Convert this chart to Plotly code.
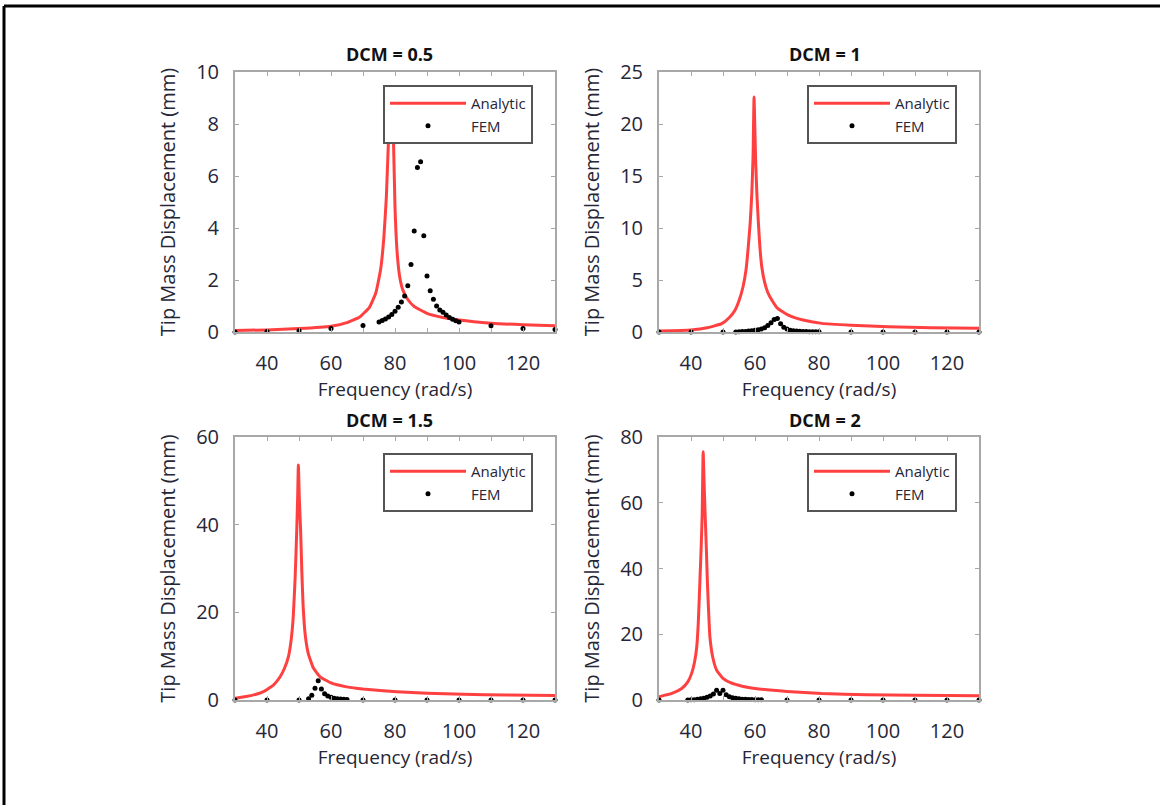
import plotly.graph_objects as go

W, H = 1160, 805

# ---------------- data ----------------
panel_titles = ["DCM = 0.5", "DCM = 1", "DCM = 1.5", "DCM = 2"]
y_max = [10, 25, 60, 80]
y_step = [2, 5, 20, 20]
x_tick_vals = [40, 60, 80, 100, 120]

# DCM = 0.5
freq_an_05 = [30, 40, 50, 60, 65, 69, 72, 74, 75.5, 76.5, 77.3, 78, 78.5, 78.8, 79.1, 79.5, 80, 80.7,
              81.5, 82.5, 84, 86, 90, 95, 100, 110, 120, 130]
disp_an_05 = [0.06, 0.08, 0.13, 0.22, 0.36, 0.58, 0.95, 1.5, 2.4, 3.6, 5.2, 7.5, 8.6, 9.0, 8.6, 7.5, 4.8, 3.0,
              2.1, 1.6, 1.25, 0.98, 0.72, 0.56, 0.46, 0.34, 0.28, 0.24]
freq_fem_05 = [30, 40, 50, 60, 70, 75, 76, 77, 78, 79, 80, 81, 82, 83, 84, 85, 86, 87, 88, 89, 90, 91, 92, 93,
               94, 95, 96, 97, 98, 99, 100, 110, 120, 130]
disp_fem_05 = [0.0, 0.02, 0.05, 0.13, 0.25, 0.38, 0.44, 0.50, 0.58, 0.67, 0.80, 0.95, 1.15, 1.38, 1.78, 2.6,
               3.88, 6.33, 6.55, 3.7, 2.15, 1.59, 1.26, 1.0, 0.85, 0.76, 0.65, 0.56, 0.49, 0.43, 0.38, 0.24,
               0.13, 0.10]

# DCM = 1
freq_an_1 = [30, 40, 45, 49.6, 52, 53.75, 55, 56.3, 57.2, 57.9, 58.5, 59, 59.4, 59.7, 60.0, 60.2, 60.6, 61,
             61.5, 62.1, 63, 64, 65.2, 67, 70.4, 75, 80.8, 90, 101.7, 115, 130]
disp_an_1 = [0.1, 0.2, 0.4, 0.8, 1.4, 2.1, 3.0, 4.4, 6.0, 8.2, 10.5, 13.3, 17, 22.6, 19, 16.5, 13.2, 10.8,
             8.3, 6.3, 4.8, 3.8, 3.1, 2.3, 1.63, 1.15, 0.83, 0.65, 0.5, 0.42, 0.35]
freq_fem_1 = [30, 40, 50, 54, 55, 56, 57, 58, 59, 60, 61, 62, 63, 64, 65, 66, 67, 68, 69, 70, 71, 72, 73, 74,
              75, 76, 77, 78, 79, 80, 90, 100, 110, 120, 130]
disp_fem_1 = [0.0, 0.0, 0.0, 0.0, 0.02, 0.04, 0.06, 0.09, 0.12, 0.16, 0.22, 0.3, 0.42, 0.62, 0.9, 1.2, 1.3,
              0.8, 0.45, 0.28, 0.18, 0.12, 0.09, 0.07, 0.05, 0.04, 0.03, 0.03, 0.02, 0.02, 0.01, 0.01, 0.0,
              0.0, 0.0]

# DCM = 1.5
freq_an_15 = [30, 35, 38.9, 42, 44.1, 45.5, 46.7, 47.6, 48.2, 48.8, 49.3, 49.6, 49.8, 50.1, 50.5, 50.9, 51.3,
              52, 52.9, 54.5, 56.6, 60, 64.9, 70, 80.5, 90, 101.3, 115, 130]
disp_an_15 = [0.4, 1.0, 1.9, 3.4, 5.3, 7.3, 9.9, 14, 19, 28, 38.8, 47, 53.6, 46, 38.8, 29, 21.3,
              14.5, 10.6, 7.3, 5.3, 3.9, 3.0, 2.5, 1.9, 1.55, 1.3, 1.15, 1.0]
freq_fem_15 = [30, 40, 50, 53, 54, 55, 56, 57, 58, 59, 60, 61, 62, 63, 64, 65, 70, 80, 90, 100, 110, 120, 130]
disp_fem_15 = [0.0, 0.0, 0.0, 0.3, 1.1, 2.7, 4.4, 2.5, 1.4, 0.9, 0.6, 0.4, 0.3, 0.2, 0.15, 0.1, 0.0, 0.0,
               0.0, 0.0, 0.0, 0.0, 0.0]

# DCM = 2
freq_an_2 = [30, 34, 37.1, 39, 40.2, 41.1, 41.8, 42.3, 42.8, 43.2, 43.5, 43.8, 44.1, 44.4, 44.8, 45.1, 45.5,
             45.9, 46.8, 48, 50, 52.7, 56, 60, 70, 80.8, 95, 110, 130]
disp_an_2 = [1.0, 2.0, 3.5, 5.5, 8.1, 11.5, 16.2, 24, 36.5, 47, 56.8, 75.5, 66, 56.8, 46, 36.5, 27,
             19.3, 13, 9.1, 6.6, 5.1, 4.2, 3.5, 2.6, 2.0, 1.6, 1.45, 1.3]
freq_fem_2 = [30, 39, 40, 41, 42, 43, 44, 45, 46, 47, 48, 49, 50, 51, 52, 53, 54, 55, 56, 57, 58, 59, 60, 61,
              62, 70, 80, 90, 100, 110, 120, 130]
disp_fem_2 = [0.0, 0.0, 0.05, 0.1, 0.2, 0.35, 0.55, 0.8, 1.2, 1.8, 3.0, 2.0, 3.0, 1.6, 1.0, 0.7, 0.5, 0.35,
              0.25, 0.2, 0.15, 0.12, 0.1, 0.08, 0.06, 0.0, 0.0, 0.0, 0.0, 0.0, 0.0, 0.0]

analytic_freq = [freq_an_05, freq_an_1, freq_an_15, freq_an_2]
analytic_disp = [disp_an_05, disp_an_1, disp_an_15, disp_an_2]
fem_freq = [freq_fem_05, freq_fem_1, freq_fem_15, freq_fem_2]
fem_disp = [disp_fem_05, disp_fem_1, disp_fem_15, disp_fem_2]

# ---------------- layout geometry (pixels) ----------------
x_doms_px = [(235, 555), (659, 979), (235, 555), (659, 979)]
y_doms_px = [(72, 332), (72, 332), (437, 700), (437, 700)]
legend_px = [(383, 85), (807, 85), (383, 453), (807, 453)]
title_px = [(389, 54), (825, 54), (389, 420), (825, 420)]

FONT = "Open Sans"
TXT = "#262636"
RED = "rgba(255,30,30,0.85)"
AXC = "#a8a8a8"

fig = go.Figure()
layout = dict(
    width=W, height=H, autosize=False,
    margin=dict(l=0, r=0, t=0, b=0, autoexpand=False),
    paper_bgcolor="white", plot_bgcolor="white",
    font=dict(family=FONT, color=TXT, size=18),
    annotations=[], shapes=[],
)

for i in range(4):
    sfx = "" if i == 0 else str(i + 1)
    leg = "legend" if i == 0 else f"legend{i + 1}"
    fig.add_trace(go.Scatter(
        x=analytic_freq[i], y=analytic_disp[i], mode="lines", name="Analytic",
        line=dict(color=RED, width=3, shape="spline", smoothing=0.4),
        xaxis="x" + sfx, yaxis="y" + sfx, legend=leg,
    ))
    fig.add_trace(go.Scatter(
        x=fem_freq[i], y=fem_disp[i], mode="markers", name="FEM",
        marker=dict(color="black", size=5), cliponaxis=False,
        xaxis="x" + sfx, yaxis="y" + sfx, legend=leg,
    ))
    x0, x1 = x_doms_px[i]
    y0, y1 = y_doms_px[i]
    layout["xaxis" + sfx] = dict(
        domain=[x0 / W, x1 / W], range=[30, 130], anchor="y" + sfx,
        tickvals=x_tick_vals, ticks="inside", ticklen=4, tickcolor=AXC, tickwidth=1,
        minor=dict(ticks="inside", dtick=10, ticklen=4, tickcolor=AXC),
        showline=True, linecolor=AXC, linewidth=2, mirror="ticks",
        showgrid=False, zeroline=False, ticklabelstandoff=12,
        tickfont=dict(size=20, color=TXT),
        title=dict(text="Frequency (rad/s)", font=dict(size=19, color=TXT), standoff=0),
    )
    layout["yaxis" + sfx] = dict(
        domain=[1 - y1 / H, 1 - y0 / H], range=[0, y_max[i]], anchor="x" + sfx,
        dtick=y_step[i], tick0=0, ticks="inside", ticklen=4, tickcolor=AXC, tickwidth=1,
        showline=True, linecolor=AXC, linewidth=2, mirror="ticks",
        showgrid=False, zeroline=False, ticklabelstandoff=10,
        tickfont=dict(size=20, color=TXT),
        title=dict(text="Tip Mass Displacement (mm)", font=dict(size=20, color=TXT), standoff=15),
    )
    lx, ly = legend_px[i]
    layout[leg] = dict(
        x=lx / W, y=1 - ly / H, xanchor="left", yanchor="top",
        bgcolor="white", bordercolor="#555555", borderwidth=2,
        font=dict(family=FONT, size=15, color=TXT), itemwidth=76,
        entrywidth=150, tracegroupgap=0,
    )
    tx, ty = title_px[i]
    layout["annotations"].append(dict(
        text="<b>" + panel_titles[i] + "</b>", x=tx / W, y=1 - ty / H, xref="paper", yref="paper",
        xanchor="center", yanchor="middle", showarrow=False, font=dict(size=18, color="#111111"),
    ))

# outer frame (top and left edges of the captured image)
layout["shapes"].append(dict(type="line", xref="paper", yref="paper", x0=4 / W, x1=1, y0=1 - 6 / H, y1=1 - 6 / H,
                             line=dict(color="black", width=3)))
layout["shapes"].append(dict(type="line", xref="paper", yref="paper", x0=4 / W, x1=4 / W, y0=0, y1=1 - 6 / H,
                             line=dict(color="black", width=3)))

fig.update_layout(**layout)
fig.write_html("out.html", config={"displayModeBar": False},
               post_script="document.body.style.margin='0px';")
